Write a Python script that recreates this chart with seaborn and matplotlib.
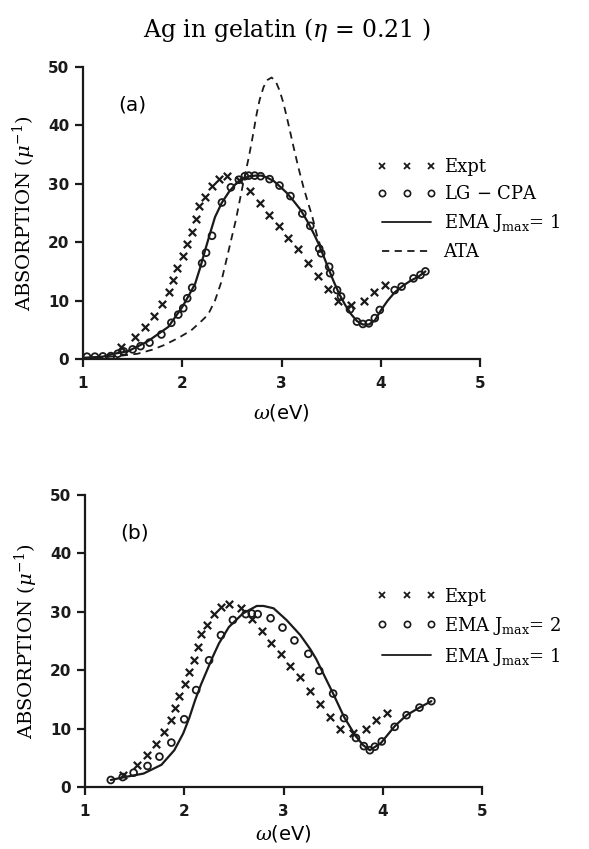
import matplotlib
matplotlib.use("Agg")
import matplotlib.pyplot as plt
from matplotlib.lines import Line2D
import seaborn as sns

# ---------------- data ----------------
expt_x = [1.38, 1.52, 1.62, 1.72, 1.80, 1.87, 1.91, 1.95, 2.01, 2.05, 2.10, 2.14, 2.17,
          2.23, 2.30, 2.37, 2.45, 2.57, 2.68, 2.78, 2.87, 2.97, 3.07, 3.17, 3.27, 3.37,
          3.47, 3.57, 3.70, 3.83, 3.93, 4.04]
expt_y = [2.0, 3.7, 5.5, 7.4, 9.4, 11.4, 13.5, 15.5, 17.7, 19.7, 21.8, 24.0, 26.2,
          27.8, 29.6, 30.8, 31.3, 30.6, 28.8, 26.7, 24.7, 22.8, 20.7, 18.8, 16.5, 14.2,
          12.0, 10.0, 9.2, 9.9, 11.4, 12.7]

# panel (a): LG-CPA circles
cpa_x = [1.04, 1.12, 1.20, 1.28, 1.35, 1.41, 1.50, 1.58, 1.67, 1.79, 1.89, 1.96, 2.01,
         2.05, 2.10, 2.20, 2.24, 2.30, 2.40, 2.49, 2.57, 2.63, 2.67, 2.73, 2.79, 2.88,
         2.98, 3.09, 3.21, 3.29, 3.38, 3.40, 3.48, 3.49, 3.56, 3.60, 3.69, 3.76, 3.82,
         3.88, 3.94, 3.99, 4.14, 4.21, 4.33, 4.40, 4.45]
cpa_y = [0.4, 0.4, 0.45, 0.5, 0.9, 1.3, 1.65, 2.2, 2.8, 4.2, 6.2, 7.6, 8.7,
         10.4, 12.2, 16.4, 18.2, 21.1, 26.8, 29.4, 30.7, 31.3, 31.4, 31.4, 31.3, 30.8,
         29.7, 27.9, 24.9, 22.8, 18.9, 18.1, 15.8, 14.7, 11.8, 10.7, 8.5, 6.4, 6.0,
         6.1, 7.0, 8.4, 11.8, 12.4, 13.8, 14.4, 15.0]

# EMA Jmax = 1 curve, panel (a)
ema1a_x = [1.00, 1.20, 1.31, 1.45, 1.65, 1.86, 2.00, 2.07, 2.13, 2.18, 2.23, 2.28, 2.33,
           2.40, 2.47, 2.54, 2.61, 2.68, 2.74, 2.80, 2.85, 2.92, 2.98, 3.05, 3.12, 3.19,
           3.26, 3.33, 3.38, 3.45, 3.52, 3.58, 3.64, 3.70, 3.76, 3.82, 3.88, 3.94, 4.00,
           4.07, 4.14, 4.22, 4.30, 4.38, 4.45]
ema1a_y = [0.2, 0.4, 0.9, 1.3, 3.0, 5.5, 8.9, 11.0, 12.9, 15.6, 18.6, 21.5, 24.3,
           26.8, 28.6, 30.0, 30.8, 31.3, 31.4, 31.4, 31.1, 30.5, 29.6, 28.5, 27.1, 25.6,
           23.6, 21.3, 19.5, 16.5, 13.5, 11.2, 9.3, 7.7, 6.5, 5.9, 5.9, 6.6, 8.3,
           10.0, 11.4, 12.5, 13.4, 14.1, 15.0]

# ATA curve
ata_x = [1.00, 1.20, 1.40, 1.55, 1.70, 1.82, 1.96, 2.09, 2.20, 2.26, 2.33, 2.39, 2.44,
         2.49, 2.54, 2.58, 2.62, 2.67, 2.71, 2.75, 2.78, 2.82, 2.86, 2.90, 2.94, 2.98,
         3.02, 3.07, 3.12, 3.17, 3.22, 3.27, 3.31, 3.36, 3.40]
ata_y = [0.05, 0.3, 0.6, 0.9, 1.6, 2.4, 3.6, 4.9, 6.6, 7.6, 10.0, 13.0, 16.6,
         20.2, 23.8, 27.2, 30.6, 34.5, 38.1, 42.0, 44.4, 46.6, 47.8, 48.2, 47.6, 46.0,
         43.8, 40.2, 36.4, 32.8, 29.5, 26.6, 24.4, 21.0, 19.0]

# panel (b): EMA Jmax = 2 circles
ema2_x = [1.26, 1.38, 1.49, 1.63, 1.75, 1.87, 2.00, 2.12, 2.25, 2.37, 2.49, 2.62, 2.68,
          2.74, 2.87, 2.99, 3.11, 3.25, 3.36, 3.50, 3.61, 3.73, 3.81, 3.87, 3.92, 3.99,
          4.12, 4.24, 4.37, 4.49]
ema2_y = [1.2, 1.7, 2.45, 3.6, 5.2, 7.6, 11.6, 16.6, 21.7, 26.0, 28.6, 29.6, 29.7,
          29.6, 28.9, 27.3, 25.1, 22.8, 19.9, 16.0, 11.8, 8.4, 7.0, 6.3, 6.9, 7.8,
          10.3, 12.3, 13.6, 14.7]

# EMA Jmax = 1 curve, panel (b)
ema1b_x = [1.26, 1.40, 1.59, 1.77, 1.90, 1.99, 2.05, 2.11, 2.17, 2.23, 2.29, 2.35, 2.45,
           2.59, 2.73, 2.80, 2.90, 3.03, 3.17, 3.27, 3.33, 3.39, 3.50, 3.61, 3.72, 3.80,
           3.87, 3.98, 4.12, 4.24, 4.37, 4.49]
ema1b_y = [1.2, 1.7, 2.3, 3.8, 6.3, 9.2, 11.8, 14.9, 17.6, 20.0, 22.4, 24.6, 27.4,
           29.7, 31.0, 31.0, 30.6, 28.6, 26.0, 23.6, 21.9, 19.8, 16.0, 12.0, 8.9, 7.2,
           6.3, 7.5, 10.4, 12.3, 13.6, 14.7]

x_ticks = [1, 2, 3, 4, 5]
y_ticks = [0, 10, 20, 30, 40, 50]

title_text = "Ag in gelatin ($\\eta$ = 0.21 )"
ylabel_text = "ABSORPTION ($\\mu^{-1}$)"
xlabel_text = "$\\omega$(eV)"
legend_a = ["Expt", "LG $-$ CPA", "EMA J$_{\\rm max}$= 1", "ATA"]
legend_b = ["Expt", "EMA J$_{\\rm max}$= 2", "EMA J$_{\\rm max}$= 1"]

# ---------------- style ----------------
sns.set_theme(style="ticks")
plt.rcParams["font.family"] = ["DejaVu Serif"]
plt.rcParams["mathtext.fontset"] = "dejavuserif"
plt.rcParams["text.color"] = "black"
plt.rcParams["axes.labelcolor"] = "black"
plt.rcParams["xtick.color"] = "black"
plt.rcParams["ytick.color"] = "black"

fig = plt.figure(figsize=(5.89, 8.49), dpi=100)
ax1 = fig.add_axes([83 / 589, 1 - 359 / 849, 397 / 589, 292 / 849])
ax2 = fig.add_axes([85 / 589, 1 - 787 / 849, 397 / 589, 292 / 849])

cross_kw = dict(marker="x", s=28, color="k", linewidth=1.6)
circ_kw = dict(marker="o", s=24, facecolors="none", edgecolors="k", linewidth=1.3)


def style_axes(ax, label, xpad):
    ax.set_xlim(1, 5)
    ax.set_ylim(0, 50)
    ax.set_xticks(x_ticks)
    ax.set_yticks(y_ticks)
    for s in ["top", "right"]:
        ax.spines[s].set_visible(False)
    for s in ["left", "bottom"]:
        ax.spines[s].set_linewidth(1.6)
        ax.spines[s].set_color("k")
    ax.tick_params(direction="out", length=6, width=1.6, colors="k", pad=4)
    ax.tick_params(axis="x", pad=6)
    for t in ax.get_xticklabels() + ax.get_yticklabels():
        t.set_family("DejaVu Sans")
        t.set_fontweight("bold")
        t.set_fontsize(11)
        t.set_color("k")
    ax.set_xlabel(xlabel_text, family="DejaVu Sans", fontsize=14, labelpad=xpad)
    ax.set_ylabel(ylabel_text, fontsize=14, labelpad=7)
    ax.text(1.5, 43.5, label, family="DejaVu Sans", fontsize=14.5,
            ha="center", va="center")
    ax.set_facecolor("white")


h_cross = Line2D([], [], ls="none", marker="x", ms=4.5, mew=1.3, color="k")
h_circ = Line2D([], [], ls="none", marker="o", ms=4.5, mew=1.2, mfc="none", color="k")
h_solid = Line2D([], [], ls="-", lw=1.3, color="k")
h_dash = Line2D([], [], ls=(0, (4, 3)), lw=1.3, color="k")
leg_kw = dict(loc="upper left", frameon=False, numpoints=3,
              handlelength=3.3, handletextpad=0.4, labelspacing=0.5,
              prop={"family": "DejaVu Serif", "size": 13}, borderpad=0, borderaxespad=0)

# panel (a)
sns.lineplot(x=ata_x, y=ata_y, ax=ax1, color="k", linewidth=1.3, linestyle=(0, (4, 3)),
             sort=False, estimator=None)
sns.lineplot(x=ema1a_x, y=ema1a_y, ax=ax1, color="k", linewidth=1.6,
             sort=False, estimator=None)
sns.scatterplot(x=expt_x, y=expt_y, ax=ax1, **cross_kw)
sns.scatterplot(x=cpa_x, y=cpa_y, ax=ax1, **circ_kw)
style_axes(ax1, "(a)", 8)
ax1.legend([h_cross, h_circ, h_solid, h_dash], legend_a,
           bbox_to_anchor=(0.74, 0.688), **leg_kw)

# panel (b)
sns.lineplot(x=ema1b_x, y=ema1b_y, ax=ax2, color="k", linewidth=1.6,
             sort=False, estimator=None)
sns.scatterplot(x=expt_x, y=expt_y, ax=ax2, **cross_kw)
sns.scatterplot(x=ema2_x, y=ema2_y, ax=ax2, **circ_kw)
style_axes(ax2, "(b)", 3)
ax2.legend([h_cross, h_circ, h_solid], legend_b,
           bbox_to_anchor=(0.735, 0.683), **leg_kw)

fig.text(0.487, 1 - 30 / 849, title_text, ha="center", va="center", fontsize=17)

fig.savefig("out.png", dpi=100, facecolor="white")
